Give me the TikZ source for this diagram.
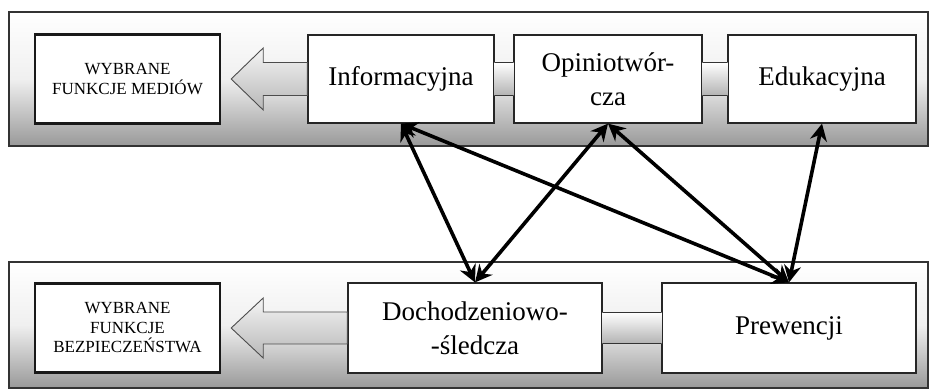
\documentclass[tikz,border=0pt]{standalone}
\usepackage{fontspec}
\setmainfont{Liberation Serif}
\usetikzlibrary{arrows.meta,calc}
\begin{document}
\begin{tikzpicture}[x=1pt,y=-1pt,
  panel/.style={draw=black!80,line width=1.4pt,top color=white,bottom color=black!40,middle color=black!6},
  band/.style={top color=white,bottom color=black!30},
  bandline/.style={draw=black!80,line width=1.2pt},
  fbox/.style={draw=black!85,line width=1.2pt,fill=white,inner sep=0pt,align=center,
    font=\fontsize{27}{34}\selectfont},
  titlebox/.style={draw=black!90,line width=2.4pt,fill=white,inner sep=0pt,align=center,
    minimum width=185pt,minimum height=89pt,font=\fontsize{17}{19.5}\selectfont},
  blockarrow/.style={draw=black!70,line width=0.9pt,top color=black!4,bottom color=black!28},
  link/.style={line width=3.6pt,black,{Stealth[length=17pt,width=17pt]}-{Stealth[length=17pt,width=17pt]}}
]
\useasboundingbox (0,0) rectangle (930,390);
% panels
\path[panel] (9,12) rectangle (928,146);
\path[panel] (9,262) rectangle (928,388);
% top row nodes
\node[titlebox] (wm) at (127.5,79) {WYBRANE\\FUNKCJE MEDIÓW};
\node[fbox,minimum width=186pt,minimum height=88pt] (inf) at (401,79) {Informacyjna};
\node[fbox,minimum width=188pt,minimum height=88pt] (opi) at (608,79) {Opiniotwór-\\cza};
\node[fbox,minimum width=188pt,minimum height=88pt] (edu) at (822,79) {Edukacyjna};
% bottom row nodes
\node[titlebox] (wb) at (127.5,328) {WYBRANE\\FUNKCJE\\BEZPIECZEŃSTWA};
\node[fbox,minimum width=254pt,minimum height=90pt] (doc) at (475,328) {Dochodzeniowo-\\-śledcza};
\node[fbox,minimum width=254pt,minimum height=90pt] (pre) at (789,328) {Prewencji};
% bands top
\foreach \a/\b in {inf/opi,opi/edu}{
  \path[band] ($(\a.east)+(0,-16.5)$) rectangle ($(\b.west)+(0,16.5)$);
  \draw[bandline] ($(\a.east)+(0,-16.5)$) -- ($(\b.west)+(0,-16.5)$);
  \draw[bandline] ($(\a.east)+(0,16.5)$) -- ($(\b.west)+(0,16.5)$);
}
% band bottom
\path[band] ($(doc.east)+(0,-15.5)$) rectangle ($(pre.west)+(0,15.5)$);
\draw[bandline] ($(doc.east)+(0,-15.5)$) -- ($(pre.west)+(0,-15.5)$);
\draw[bandline] ($(doc.east)+(0,15.5)$) -- ($(pre.west)+(0,15.5)$);
% block arrows
\coordinate (t1) at ($(wm.east)+(10,0)$);
\path[blockarrow] (t1) -- ($(t1)+(32,-31)$) -- ($(t1)+(32,-16.5)$) -- ($(inf.west)+(0,-16.5)$)
  -- ($(inf.west)+(0,16.5)$) -- ($(t1)+(32,16.5)$) -- ($(t1)+(32,31)$) -- cycle;
\coordinate (t2) at ($(wb.east)+(10,0)$);
\path[blockarrow] (t2) -- ($(t2)+(32,-30)$) -- ($(t2)+(32,-16)$) -- ($(doc.west)+(0,-16)$)
  -- ($(doc.west)+(0,16)$) -- ($(t2)+(32,16)$) -- ($(t2)+(32,30)$) -- cycle;
% links
\draw[link] (inf.south) -- (doc.north);
\draw[link] (inf.south) -- (pre.north);
\draw[link] (opi.south) -- (doc.north);
\draw[link] (opi.south) -- (pre.north);
\draw[link] (edu.south) -- (pre.north);
\end{tikzpicture}
\end{document}
